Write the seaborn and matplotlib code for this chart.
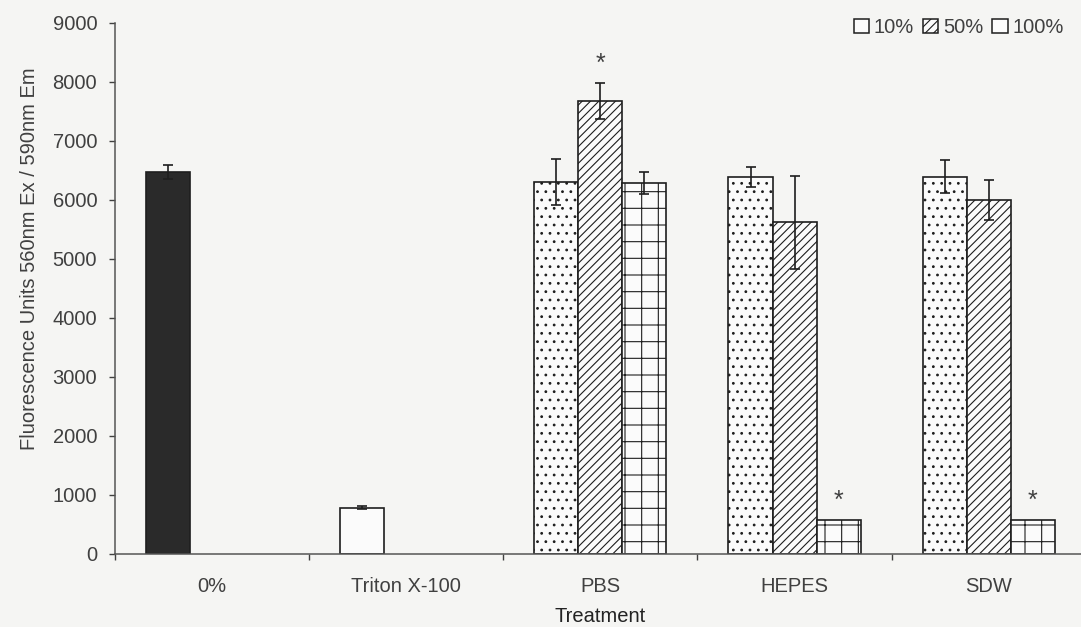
import numpy as np
import pandas as pd
import matplotlib
matplotlib.use("Agg")
import matplotlib.pyplot as plt
import seaborn as sns
from matplotlib.patches import Patch

# ---- data -------------------------------------------------------------
treatments = ["0%", "Triton X-100", "PBS", "HEPES", "SDW"]
concentrations = ["10%", "50%", "100%"]

control_means = [6470, 780]      # 0% and Triton X-100
control_errors = [115, 20]
pbs_means = [6300, 7680, 6290]
pbs_errors = [395, 305, 190]
hepes_means = [6390, 5620, 570]
hepes_errors = [170, 790, 0]
sdw_means = [6390, 6000, 565]
sdw_errors = [280, 340, 0]
significant = [("PBS", "50%"), ("HEPES", "100%"), ("SDW", "100%")]

rows = []
for t, m, e in zip(treatments[:2], control_means, control_errors):
    rows.append((t, "10%", m, e))
for t, means, errs in zip(treatments[2:],
                          [pbs_means, hepes_means, sdw_means],
                          [pbs_errors, hepes_errors, sdw_errors]):
    for c, m, e in zip(concentrations, means, errs):
        rows.append((t, c, m, e))
df = pd.DataFrame(rows, columns=["Treatment", "Concentration", "Value", "Error"])

# ---- styling ----------------------------------------------------------
sns.set_theme(style="ticks")
plt.rcParams["font.family"] = ["Liberation Sans", "DejaVu Sans"]
plt.rcParams["hatch.linewidth"] = 0.8

BG = "#f5f5f3"
INK = "#404040"
EDGE = "#1e1e1e"
hatches = {"10%": "..", "50%": "////", "100%": "+"}
bar_width = 0.68
FS = 14.5

fig = plt.figure(figsize=(10.81, 6.27), dpi=100, facecolor=BG)
ax = fig.add_axes([114.5 / 1081, 73.5 / 627, 971.5 / 1081, 530.5 / 627])
ax.set_facecolor(BG)

sns.barplot(data=df, x="Treatment", y="Value", hue="Concentration",
            order=treatments, hue_order=concentrations, width=bar_width,
            palette={c: BG for c in concentrations}, saturation=1,
            errorbar=None, edgecolor=EDGE, linewidth=1.2, legend=False, ax=ax)

step = bar_width / len(concentrations)
for p in ax.patches:
    xc = p.get_x() + p.get_width() / 2
    ci = int(round(xc))
    hi = int(round((xc - ci) / step)) + 1
    if p.get_height() == 0 or np.isnan(p.get_height()):
        continue
    t, c = treatments[ci], concentrations[hi]
    row = df[(df.Treatment == t) & (df.Concentration == c)].iloc[0]
    if t == "0%":
        p.set_facecolor("#2a2a2a")
        p.set_hatch(None)
    elif t == "Triton X-100":
        p.set_facecolor("#fbfbfb")
        p.set_hatch(None)
    else:
        p.set_facecolor("#fbfbfb")
        p.set_hatch(hatches[c])
    if row.Error > 0:
        ax.errorbar(xc, row.Value, yerr=row.Error, fmt="none", ecolor=EDGE,
                    elinewidth=1.2, capsize=3.3, capthick=1.2, zorder=4)
    if (t, c) in significant:
        ax.text(xc, row.Value + row.Error + 330, "*", ha="center", va="center",
                fontsize=18, color=INK)

# ---- axes -------------------------------------------------------------
ax.set_ylim(0, 9000)
ax.set_xlim(-0.5, 4.5)
ax.set_yticks(np.arange(0, 9001, 1000))
ax.tick_params(axis="y", direction="out", length=4.5, width=1, pad=8,
               colors=INK, labelsize=FS)
ax.set_xticks(np.arange(-0.5, 4.6, 1))
ax.set_xticklabels([])
ax.tick_params(axis="x", which="major", direction="out", length=4, width=1, colors=INK)
ax.set_xticks(range(len(treatments)), minor=True)
ax.set_xticklabels(treatments, minor=True)
ax.tick_params(axis="x", which="minor", length=0, pad=17, labelsize=FS, labelcolor=INK)

for side in ["top", "right"]:
    ax.spines[side].set_visible(False)
for side in ["left", "bottom"]:
    ax.spines[side].set_color("#555555")
    ax.spines[side].set_linewidth(1.1)

ax.set_xlabel("Treatment", fontsize=FS, color="#222222", labelpad=8)
ax.set_ylabel("Fluorescence Units 560nm Ex / 590nm Em", fontsize=FS, color=INK)
ax.yaxis.set_label_coords(-0.078, 0.555)

handles = [Patch(facecolor="#fbfbfb", edgecolor=EDGE, linewidth=1.1,
                 hatch="////" if c == "50%" else None) for c in concentrations]
fig.legend(handles, concentrations, loc="upper right", ncol=3,
           bbox_to_anchor=(1074 / 1081, 1 - 8 / 627), frameon=False,
           fontsize=FS, handlelength=0.75, handleheight=0.75,
           handletextpad=0.25, columnspacing=0.45, borderpad=0,
           labelcolor=INK)

fig.savefig("out.png", dpi=100, facecolor=BG)
